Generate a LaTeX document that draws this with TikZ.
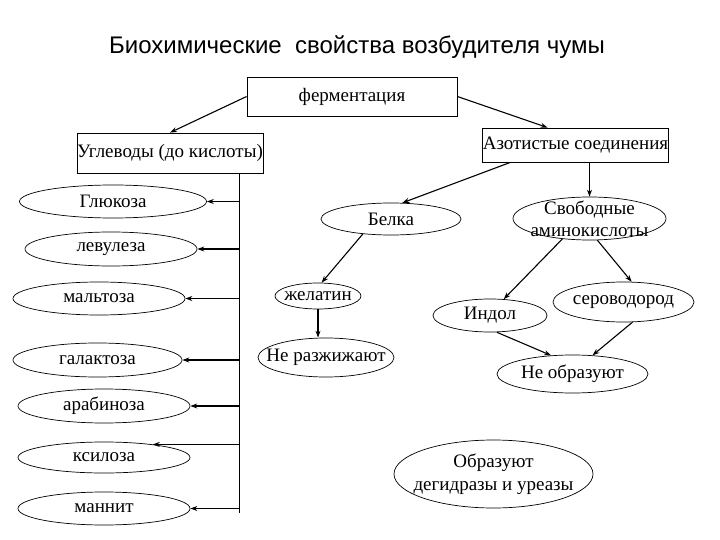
\documentclass[tikz,border=0pt]{standalone}
\usepackage{fontspec}
\setmainfont{Liberation Serif}
\newfontfamily\titlefont{Liberation Sans}
\usetikzlibrary{shapes.geometric,arrows.meta,calc}
\begin{document}
\begin{tikzpicture}[x=1pt,y=-1pt,
  box/.style={draw,line width=0.8pt,inner sep=0pt,font=\fontsize{19}{22}\selectfont},
  oval/.style={draw,ellipse,line width=0.7pt,inner sep=0pt},
  lbl/.style={inner sep=0pt,font=\fontsize{19}{22}\selectfont,align=center},
  arr/.style={-{Stealth[length=7pt,width=5pt]},line width=1.1pt},
  ln/.style={line width=0.8pt}]
\useasboundingbox (0,0) rectangle (720,540);
\node[font=\titlefont\fontsize{24}{27}\selectfont] (title) at (357,47) {Биохимические\ \ свойства возбудителя чумы};
\node[box,minimum width=210pt,minimum height=39pt] (fer) at (352,96.5) {ферментация};
\node[box,minimum width=186pt,minimum height=40pt] (ugl) at (170,153) {Углеводы (до кислоты)};
\node[box,minimum width=183pt,minimum height=34pt] (azot) at (575.5,145) {Азотистые соединения};

\node[oval,minimum width=187pt,minimum height=33pt,label={[lbl]center:Глюкоза}] (gluc) at (113,201.5) {};
\node[oval,minimum width=172pt,minimum height=34pt,label={[lbl]center:левулеза}] (levu) at (111,249) {};
\node[oval,minimum width=172pt,minimum height=33pt,label={[lbl]center:мальтоза}] (malt) at (99,298.5) {};
\node[oval,minimum width=169pt,minimum height=34pt,label={[lbl]center:галактоза}] (gal) at (97.5,360) {};
\node[oval,minimum width=172pt,minimum height=34pt,label={[lbl]center:арабиноза}] (arab) at (104,406) {};
\node[oval,minimum width=172pt,minimum height=31pt,label={[lbl]center:ксилоза}] (ksil) at (104,457.5) {};
\node[oval,minimum width=172pt,minimum height=33pt,label={[lbl]center:маннит}] (mann) at (104,508.5) {};

\node[oval,minimum width=140pt,minimum height=32pt,label={[lbl]center:Белка}] (belka) at (391,219) {};
\node[oval,minimum width=153pt,minimum height=43pt,label={[lbl]center:{Свободные\\аминокислоты}}] (svob) at (589.5,218.5) {};
\node[oval,minimum width=86pt,minimum height=26pt,label={[lbl]center:желатин}] (zhel) at (318,296) {};
\node[oval,minimum width=136pt,minimum height=39pt,label={[lbl]center:Не разжижают}] (neraz) at (326,357.5) {};
\node[oval,minimum width=114pt,minimum height=33pt,label={[lbl]center:Индол}] (indol) at (490,315.5) {};
\node[oval,minimum width=141pt,minimum height=40pt,label={[lbl]center:сероводород}] (serov) at (623.5,302) {};
\node[oval,minimum width=151pt,minimum height=38pt,label={[lbl]center:Не образуют}] (neobr) at (572.5,374) {};
\node[oval,minimum width=199pt,minimum height=68pt,label={[lbl]center:{Образуют\\[1pt]дегидразы и уреазы}}] (obraz) at (493.5,474) {};

\draw[arr] (fer.west) -- (ugl.north);
\draw[arr] (fer.east) -- ($(azot.north west)!0.35!(azot.north east)$);

\coordinate (vt) at (239,173);
\coordinate (vb) at (239,513);
\draw[ln] (vt) -- (vb);
\foreach \n in {gluc,levu,malt,gal,arab,mann}{
  \draw[arr] (vt |- \n.east) -- (\n.east);
}
\draw[arr] (vt |- ksil.15) -- (ksil.15);

\draw[arr] ($(azot.south west)!0.15!(azot.south east)$) -- (belka.55);
\draw[arr] (svob.north |- azot.south) -- (svob.north);
\draw[arr] (belka.208) -- (zhel.75);
\draw[arr] (zhel.south) -- (zhel.south |- neraz.north);
\draw[arr] (svob.217) -- (indol.50);
\draw[arr] (svob.290) -- (serov.68);
\draw[arr] (indol.292) -- (neobr.139);
\draw[arr] (serov.294) -- (neobr.43);
\end{tikzpicture}
\end{document}
